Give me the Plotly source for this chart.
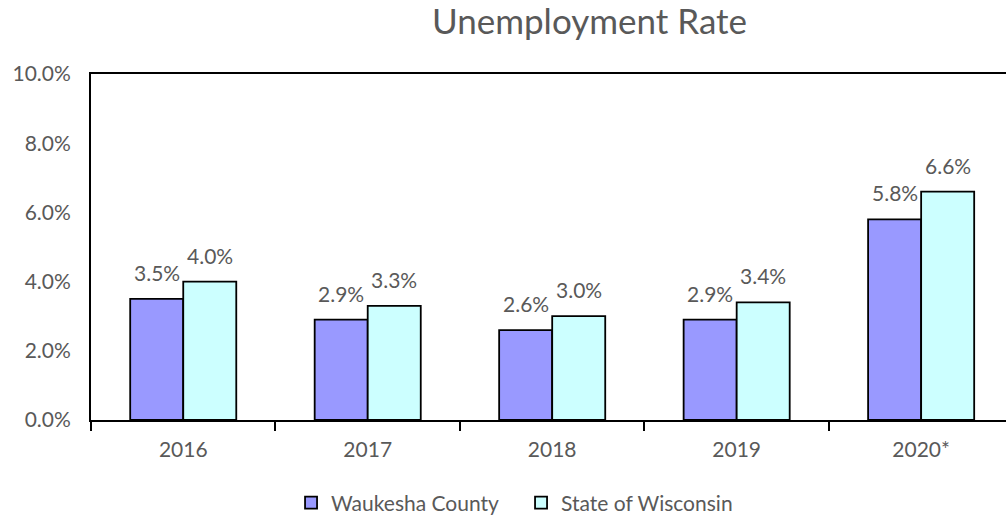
import plotly.graph_objects as go

years = ["2016", "2017", "2018", "2019", "2020*"]
waukesha = [0.035, 0.029, 0.026, 0.029, 0.058]
wisconsin = [0.040, 0.033, 0.030, 0.034, 0.066]

txt_color = "#595959"
font_family = "Lato, 'Open Sans', sans-serif"

fig = go.Figure()
fig.add_trace(go.Bar(
    x=years, y=waukesha, name="Waukesha County",
    marker=dict(color="#9999FF", line=dict(color="black", width=1.8)),
))
fig.add_trace(go.Bar(
    x=years, y=wisconsin, name="State of Wisconsin",
    marker=dict(color="#CCFFFF", line=dict(color="black", width=1.8)),
))

# value labels sit a bit above each bar, like the Excel original
bar_px = 53
for vals, shift in [(waukesha, -bar_px / 2), (wisconsin, bar_px / 2)]:
    for i, v in enumerate(vals):
        fig.add_annotation(
            x=i, y=v, text=f"{v * 100:.1f}%", showarrow=False,
            xshift=shift, yshift=12, yanchor="bottom",
            font=dict(size=21, color=txt_color, family=font_family),
        )

fig.update_layout(
    width=1006, height=516,
    margin=dict(l=91, r=0, t=74, b=96, autoexpand=False),
    paper_bgcolor="white", plot_bgcolor="white",
    barmode="group", bargap=0.425, bargroupgap=0,
    font=dict(family=font_family, color=txt_color, size=21),
    title=dict(
        text="Unemployment Rate", x=0.586, xanchor="center",
        y=0.957, yanchor="middle",
        font=dict(size=35, color=txt_color, family=font_family),
    ),
    xaxis=dict(
        type="category", automargin=False,
        range=[-0.5, 4.46], showline=True, linecolor="black", linewidth=2,
        mirror=True, ticks="outside", tickson="boundaries", ticklen=9,
        tickcolor="black", tickwidth=2, showgrid=False,
        ticklabelstandoff=10,
    ),
    yaxis=dict(
        automargin=False,
        range=[0, 0.10], dtick=0.02, tickformat=".1%",
        showline=True, linecolor="black", linewidth=2,
        showgrid=False, zeroline=False, ticks="",
        ticklabelstandoff=14,
    ),
    legend=dict(
        orientation="h",
        x=0.47, xanchor="center", y=-0.24, yanchor="middle",
        font=dict(size=21, color=txt_color), itemwidth=30,
        traceorder="normal", entrywidthmode="pixels", entrywidth=185,
    ),
)

# drop the default page margin so the figure sits at the window's corner
fig.write_html("out.html", config={"displayModeBar": False},
               post_script="document.body.style.margin='0';")
